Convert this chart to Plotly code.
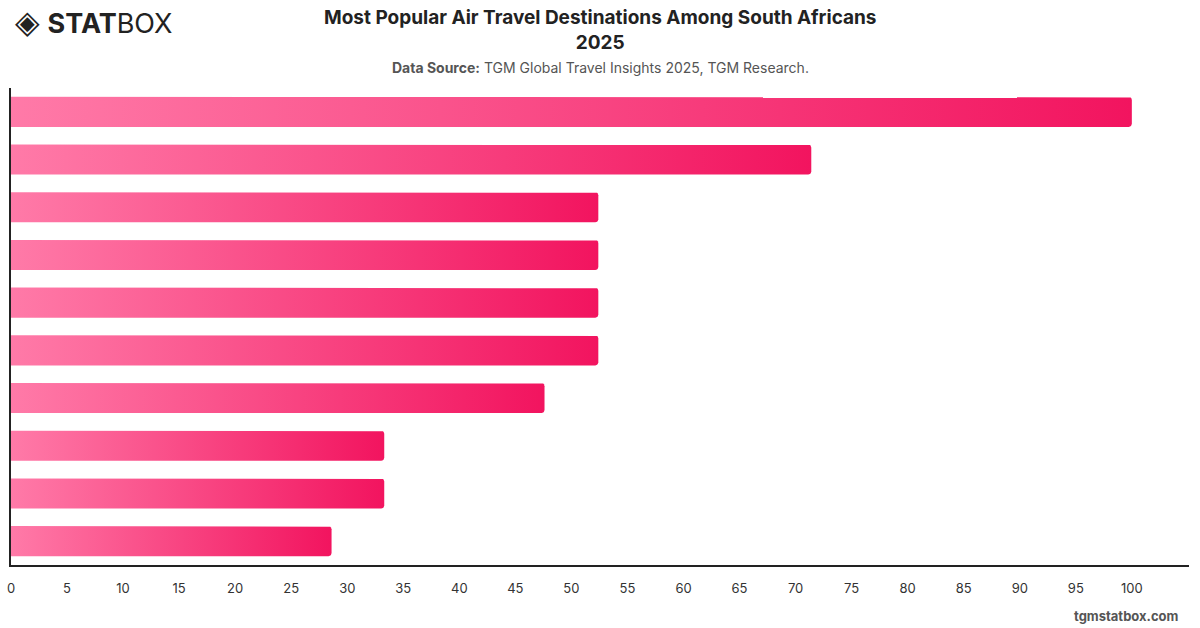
import numpy as np
import plotly.graph_objects as go

# Data (index scores relative to the most popular destination = 100)
destinations = ["Destination 1", "Destination 2", "Destination 3", "Destination 4", "Destination 5",
                "Destination 6", "Destination 7", "Destination 8", "Destination 9", "Destination 10"]
scores = [100.0, 71.4, 52.4, 52.4, 52.4, 52.4, 47.6, 33.3, 33.3, 28.6]
x_ticks = list(range(0, 101, 5))

title_text = "Most Popular Air Travel Destinations Among South Africans<br>2025"
source_text = "<b>Data Source:</b> TGM Global Travel Insights 2025, TGM Research."

X_MAX = 105.1
half_h = 0.315           # half bar thickness in category units
rx = 0.27                # corner radius in x units
ry = 0.065               # corner radius in y units

fig = go.Figure()
for i, (name, v) in enumerate(zip(destinations, scores)):
    y0, y1 = i - half_h, i + half_h
    t1 = np.linspace(-np.pi / 2, 0, 6)
    t2 = np.linspace(0, np.pi / 2, 6)
    xs = [0, v - rx] + list(v - rx + rx * np.cos(t1)) + list(v - rx + rx * np.cos(t2)) + [v - rx, 0, 0]
    ys = [y0, y0] + list(y0 + ry + ry * np.sin(t1)) + list(y1 - ry + ry * np.sin(t2)) + [y1, y1, y0]
    fig.add_trace(go.Scatter(
        x=xs, y=ys, mode="lines", fill="toself", name=name,
        line=dict(width=0, color="rgba(0,0,0,0)"),
        fillgradient=dict(type="horizontal",
                          colorscale=[[0, "#ff7aa8"], [1, "#f2145f"]]),
        hoverinfo="skip", showlegend=False,
    ))

fig.update_layout(
    width=1200, height=628,
    margin=dict(l=11, r=11, t=88, b=63, autoexpand=False),
    paper_bgcolor="white", plot_bgcolor="white",
    font=dict(family="Inter, Roboto, sans-serif", color="#333"),
    xaxis=dict(range=[0, X_MAX], tickvals=x_ticks, ticktext=[str(t) for t in x_ticks],
               showgrid=False, zeroline=False, showline=True, linecolor="#222", linewidth=1.5,
               ticks="", ticklabelstandoff=11, automargin=False,
               tickfont=dict(size=13, color="#333"), fixedrange=True),
    yaxis=dict(range=[len(scores) - 0.5, -0.5], showgrid=False, zeroline=False,
               showline=True, linecolor="#222", linewidth=1.5, showticklabels=False,
               ticks="", automargin=False, fixedrange=True),
    annotations=[
        dict(text="<b>" + title_text + "</b>", x=0.5, y=1, xref="paper", yref="paper",
             xanchor="center", yanchor="top", yshift=84, showarrow=False,
             font=dict(size=19, color="#222", family="Inter, Roboto, sans-serif")),
        dict(text=source_text, x=0.5, y=1, xref="paper", yref="paper",
             xanchor="center", yanchor="middle", yshift=21, showarrow=False,
             font=dict(size=14, color="#555")),
        dict(text="<span style='font-size:32px'>◈</span> <b>STAT</b>BOX", x=0, y=1,
             xref="paper", yref="paper",
             xanchor="left", yanchor="middle", xshift=2, yshift=67, showarrow=False,
             font=dict(size=27, color="#222", family="Inter, Roboto, sans-serif")),
        dict(text="<b>tgmstatbox.com</b>", x=1, y=0, xref="paper", yref="paper",
             xanchor="right", yanchor="middle", xshift=-8, yshift=-51, showarrow=False,
             font=dict(size=13, color="#555")),
    ],
)

fig.write_html("out.html")
